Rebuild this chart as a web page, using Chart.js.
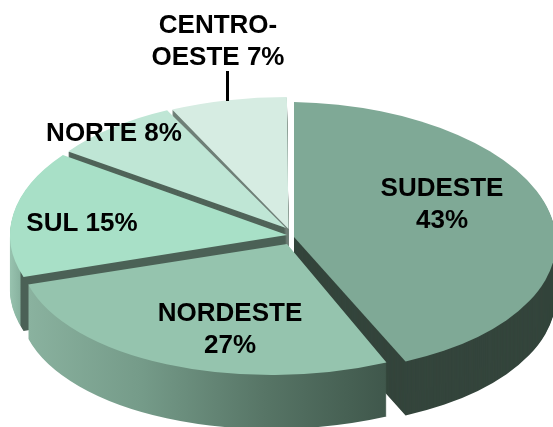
<!DOCTYPE html>
<html><head><meta charset="utf-8">
<style>html,body{margin:0;padding:0;background:#fff;overflow:hidden}canvas{display:block}</style>
<script src="https://cdn.jsdelivr.net/npm/chart.js@4/dist/chart.umd.min.js"></script>
</head><body><canvas id="c" width="553" height="427"></canvas>
<script>
const categories = ['SUDESTE','NORDESTE','SUL','NORTE','CENTRO-OESTE'];
const values = [43,27,15,8,7];
const colors = ['#7fa996','#95c4ae','#a8e0c7','#bfe6d5','#d6ece2'];
const labelLines = [['SUDESTE','43%'],['NORDESTE','27%'],['SUL 15%'],['NORTE 8%'],['CENTRO-','OESTE 7%']];
const labelX = [442,230,82,114,218];
const labelY = [189,314,224,134,26];
const apexX = [294,287,287,286,288.5];
const apexY = [237,244,235,228,229];
const radX = [262,267,277,264,270];
const radY = [135,131,136,130,132];
const skewX = [0,-0.12,0,0.055,0.012];
const skewY = [0.02,0,0,0,0];
const depth = 54;
const drawOrder = [4,3,2,0,1];
const wallStops = [
  [[0,'#34453c'],[1,'#34453c']],
  [[33,'#8ab29f'],[155,'#759b89'],[280,'#577566'],[402,'#3f574b']],
  [[10,'#98c3af'],[20,'#88b29f'],[21,'#4b6156'],[287,'#4b6156']],
  [[0,'#506459'],[1,'#506459']],
  [[0,'#6f7f77'],[1,'#6f7f77']]
];
const plugin3d = {
  id:'pie3d',
  beforeDatasetDraw(chart,args){
    const ctx = chart.ctx, arcs = chart.getDatasetMeta(args.index).data;
    const place = (i,dy)=>{
      const a = arcs[i], k = a.outerRadius;
      ctx.translate(apexX[i],apexY[i]+dy);
      ctx.transform(1,skewY[i],skewX[i],1,0,0);
      ctx.scale(radX[i]/k,radY[i]/k);
      ctx.translate(-a.x,-a.y);
    };
    const paint = (i,fill)=>{
      const a = arcs[i];
      const view = Object.create(a,{options:{value:Object.assign({},a.options,{backgroundColor:fill,borderWidth:0})}});
      a.constructor.prototype.draw.call(view,ctx);
    };
    for(const i of drawOrder){
      const a = arcs[i], k = a.outerRadius, sx = radX[i]/k;
      const stops = wallStops[i];
      const x0 = stops[0][0], x1 = stops[stops.length-1][0];
      const toC = x=>a.x+(x-apexX[i])/sx;
      let fill;
      if(x1>1){
        fill = ctx.createLinearGradient(toC(x0),0,toC(x1),0);
        for(const s of stops) fill.addColorStop((s[0]-x0)/(x1-x0),s[1]);
      } else fill = stops[0][1];
      for(let dy=depth;dy>0;dy--){
        ctx.save();place(i,dy);paint(i,fill);ctx.restore();
      }
      ctx.save();place(i,0);paint(i,colors[i]);ctx.restore();
    }
    return false;
  },
  afterDatasetsDraw(chart){
    const ctx = chart.ctx;
    ctx.save();
    ctx.strokeStyle='#000';ctx.lineWidth=3;
    ctx.beginPath();ctx.moveTo(227.5,71);ctx.lineTo(227.5,101);ctx.stroke();
    ctx.fillStyle='#000';
    ctx.font='bold 26px "Liberation Sans", Arial, sans-serif';
    ctx.textAlign='center';ctx.textBaseline='middle';
    labelLines.forEach((lines,i)=>lines.forEach((t,j)=>ctx.fillText(t,labelX[i],labelY[i]+j*32)));
    ctx.restore();
  }
};
new Chart(document.getElementById('c'),{
  type:'pie',
  data:{labels:categories,datasets:[{data:values,backgroundColor:colors,borderWidth:0,clip:false}]},
  options:{responsive:false,animation:false,layout:{padding:0},
    plugins:{legend:{display:false},tooltip:{enabled:false}}},
  plugins:[plugin3d]
});
</script></body></html>
